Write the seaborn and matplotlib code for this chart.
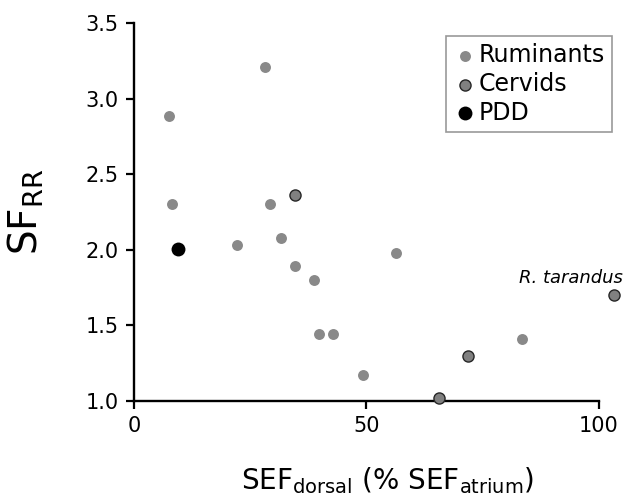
import pandas as pd
import matplotlib
matplotlib.use("Agg")
import matplotlib.pyplot as plt
import seaborn as sns

# --------------------------------
# data
# --------------------------------
rum_x = [28.2, 7.5, 8.2, 29.3, 22.1, 31.6, 34.7, 38.7, 39.8, 42.8, 49.2, 56.3, 83.5]
rum_y = [3.21, 2.885, 2.30, 2.30, 2.03, 2.08, 1.89, 1.80, 1.44, 1.44, 1.17, 1.98, 1.41]

cerv_x = [34.6, 71.9, 65.7, 103.2]
cerv_y = [2.36, 1.30, 1.02, 1.70]

pdd_x = [9.5]
pdd_y = [2.005]

df_rum = pd.DataFrame({'x': rum_x, 'y': rum_y})
df_cerv = pd.DataFrame({'x': cerv_x, 'y': cerv_y})
df_pdd = pd.DataFrame({'x': pdd_x, 'y': pdd_y})

sns.set_style("ticks")
plt.rcParams['font.family'] = ['DejaVu Sans']
plt.rcParams['mathtext.fontset'] = 'dejavusans'
plt.rcParams['text.color'] = 'black'
plt.rcParams['axes.labelcolor'] = 'black'

fig = plt.figure(figsize=(6.44, 5.0), dpi=100)
ax = fig.add_axes([0.208, 0.198, 0.722, 0.756])

sns.scatterplot(data=df_rum, x='x', y='y', ax=ax, color='#898989', s=62,
                linewidth=0, label='Ruminants', clip_on=False, zorder=3)
sns.scatterplot(data=df_cerv, x='x', y='y', ax=ax, color='#808080', s=64,
                edgecolor='#262626', linewidth=1.0, label='Cervids',
                clip_on=False, zorder=3)
sns.scatterplot(data=df_pdd, x='x', y='y', ax=ax, color='black', s=100,
                linewidth=0, label='PDD', clip_on=False, zorder=3)

ax.text(105.2, 1.815, 'R. tarandus', style='italic', fontsize=13,
        ha='right', va='center')

ax.set_xlim(0, 100)
ax.set_ylim(1.0, 3.5)
ax.set_xticks([0, 50, 100])
ax.set_yticks([1.0, 1.5, 2.0, 2.5, 3.0, 3.5])
ax.set_yticklabels(['1.0', '1.5', '2.0', '2.5', '3.0', '3.5'])

for side in ['top', 'right']:
    ax.spines[side].set_visible(False)
for side in ['left', 'bottom']:
    ax.spines[side].set_linewidth(1.7)
    ax.spines[side].set_color('black')
ax.tick_params(axis='both', direction='out', length=6, width=1.6,
               labelsize=15, pad=5, colors='black')

ax.set_xlabel(r'SEF$_{\mathrm{dorsal}}$ (% SEF$_{\mathrm{atrium}}$)', fontsize=20)
ax.set_ylabel(r'SF$_{\mathrm{RR}}$', fontsize=28)
ax.xaxis.set_label_coords(0.546, -0.17)
ax.yaxis.set_label_coords(-0.19, 0.5)

leg = ax.legend(loc='upper right', bbox_to_anchor=(0.951, 0.928),
                bbox_transform=fig.transFigure, fontsize=17, frameon=True,
                fancybox=False, framealpha=1, edgecolor='#999999',
                handletextpad=0.1, borderpad=0.3, labelspacing=0.2,
                handlelength=1.0, borderaxespad=0)
leg.get_frame().set_linewidth(1.2)
for t in leg.get_texts():
    t.set_color('black')

fig.savefig('out.png', dpi=100)
